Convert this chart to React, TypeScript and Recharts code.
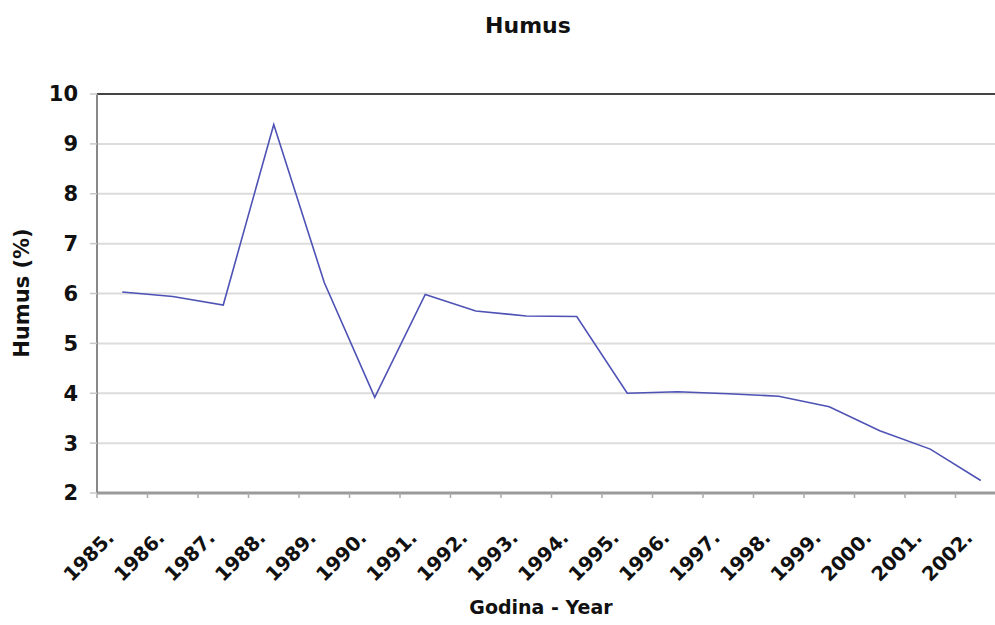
import React from "react";
import { LineChart, Line, XAxis, YAxis, CartesianGrid, ReferenceLine } from "recharts";

const years = ["1985.", "1986.", "1987.", "1988.", "1989.", "1990.", "1991.", "1992.", "1993.", "1994.", "1995.", "1996.", "1997.", "1998.", "1999.", "2000.", "2001.", "2002."];
const humus = [6.03, 5.94, 5.77, 9.39, 6.22, 3.92, 5.98, 5.65, 5.55, 5.54, 4.0, 4.03, 3.99, 3.94, 3.73, 3.25, 2.88, 2.25];
const yTicks = [2, 3, 4, 5, 6, 7, 8, 9, 10];
const labelTicks = years.map((_, i) => i);
const boundaryTicks = [...years.map((_, i) => i - 0.5), years.length - 0.5];

const data = years.map((y, i) => ({ i, year: y, v: humus[i] }));

const FONT = "'DejaVu Sans', sans-serif";

const EmptyTick = () => <g />;

const YearTick = (props: any) => {
  const { x, payload } = props;
  const tx = x - 7;
  const ty = 539;
  return (
    <text
      x={tx}
      y={ty}
      textAnchor="end"
      transform={`rotate(-45, ${tx}, ${ty})`}
      fontFamily={FONT}
      fontWeight="bold"
      fontSize={19.5}
      fill="#111"
    >
      {years[payload.value]}
    </text>
  );
};

export default function App() {
  return (
    <div style={{ position: "absolute", left: 0, top: 0, width: 995, height: 625, overflow: "hidden", background: "#fff" }}>
      <div style={{ position: "absolute", left: 0, width: 1056, top: 13, textAlign: "center", fontFamily: FONT, fontWeight: "bold", fontSize: 22, color: "#111" }}>
        Humus
      </div>
      <div style={{ position: "absolute", left: 0, width: 1082, top: 596, textAlign: "center", fontFamily: FONT, fontWeight: "bold", fontSize: 19, color: "#111" }}>
        Godina - Year
      </div>
      <div style={{ position: "absolute", left: 22, top: 293, width: 0, height: 0 }}>
        <div style={{ position: "absolute", transform: "translate(-50%, -50%) rotate(-90deg)", whiteSpace: "nowrap", fontFamily: FONT, fontWeight: "bold", fontSize: 21, color: "#111" }}>
          Humus (%)
        </div>
      </div>
      <div style={{ position: "absolute", left: 0, top: 0 }}>
        <LineChart width={1016} height={625} data={data} margin={{ top: 94, right: 10, bottom: 100, left: 0 }}>
          <CartesianGrid vertical={false} stroke="#dcdcdc" strokeWidth={2} />
          <XAxis
            dataKey="i"
            type="number"
            domain={[-0.5, years.length - 0.5]}
            ticks={boundaryTicks}
            interval={0}
            height={12}
            tick={EmptyTick}
            tickSize={5}
            tickLine={{ stroke: "#aaa", strokeWidth: 1.5 }}
            axisLine={{ stroke: "#9a9a9a", strokeWidth: 3 }}
          />
          <XAxis
            xAxisId="lab"
            dataKey="i"
            type="number"
            domain={[-0.5, years.length - 0.5]}
            ticks={labelTicks}
            interval={0}
            height={20}
            tick={<YearTick />}
            tickLine={false}
            axisLine={false}
          />
          <YAxis
            type="number"
            domain={[2, 10]}
            ticks={yTicks}
            interval={0}
            width={97}
            tickSize={7}
            tickMargin={12}
            tickLine={{ stroke: "#c8c8c8", strokeWidth: 1.5 }}
            axisLine={{ stroke: "#888", strokeWidth: 2 }}
            tick={{ fontFamily: FONT, fontWeight: "bold", fontSize: 21, fill: "#111" }}
          />
          <ReferenceLine y={10} stroke="#444" strokeWidth={2} />
          <Line
            type="linear"
            dataKey="v"
            stroke="#4e52b4"
            strokeWidth={1.6}
            dot={false}
            isAnimationActive={false}
          />
        </LineChart>
      </div>
    </div>
  );
}
